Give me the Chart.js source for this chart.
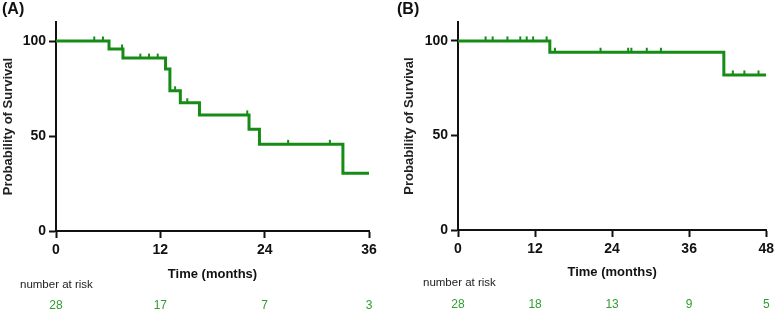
<!DOCTYPE html>
<html>
<head>
<meta charset="utf-8">
<script src="https://cdn.jsdelivr.net/npm/chart.js@4/dist/chart.umd.min.js"></script>
<style>
  body { margin: 0; background: #fff; }
  #wrap { display: flex; width: 778px; height: 312px; }
  canvas { display: block; }
</style>
</head>
<body>
<div id="wrap">
  <canvas id="chartA" width="389" height="312"></canvas>
  <canvas id="chartB" width="389" height="312"></canvas>
</div>
<script>
// ---- panel A : survival steps (months, %) ----
const timesA = [0, 6.1, 7.7, 12.6, 13.1, 14.3, 16.5, 22.2, 23.4, 33.0, 36]
const survA = [100, 95.8, 91.0, 85.3, 73.8, 67.5, 61.1, 53.5, 45.6, 30.4, 30.4]
const censorA = [4.4, 5.4, 7.6, 9.7, 10.7, 11.7, 13.7, 15.1, 22.0, 26.7, 31.5]
const riskTimesA = [0, 12, 24, 36]
const riskA = [28, 17, 7, 3]

// ---- panel B ----
const timesB = [0, 14.3, 41.4, 48]
const survB = [100, 94.0, 82.0, 82.0]
const censorB = [4.3, 5.4, 7.7, 9.7, 10.7, 11.7, 13.8, 15.1, 22.2, 26.5, 27.0, 29.4, 31.6, 42.8, 44.6, 46.8]
const riskTimesB = [0, 12, 24, 36, 48]
const riskB = [28, 18, 13, 9, 5]

const yTicks = [0, 50, 100]
const green = '#168c16'
const riskGreen = '#2e9e2e'

// step value at time t
function survAt(times, surv, t) {
    let s = surv[0]
    for (let i = 0; i < times.length; i++) {
        if (times[i] <= t) s = surv[i]
    }
    return s
}

function makeChart(id, p) {
    const ctx = document.getElementById(id)

    const extras = {
        id: 'extras' + id,
        afterDatasetsDraw(chart) {
            const c = chart.ctx
            const xs = chart.scales.x
            const ys = chart.scales.y
            // censor marks
            c.save()
            c.strokeStyle = green
            c.lineWidth = 2
            p.censor.forEach(t => {
                const x = xs.getPixelForValue(t)
                const y = ys.getPixelForValue(survAt(p.times, p.surv, t))
                c.beginPath()
                c.moveTo(x, y)
                c.lineTo(x, y - 4.5)
                c.stroke()
            })
            c.restore()
        },
        afterDraw(chart) {
            const c = chart.ctx
            const xs = chart.scales.x
            c.save()
            c.fillStyle = '#111'
            c.font = 'bold 16px "Liberation Sans", Arial, sans-serif'
            c.textBaseline = 'middle'
            c.textAlign = 'left'
            c.fillText(p.label, p.labelX, 10)

            c.fillStyle = '#222'
            c.font = '11.5px "Liberation Sans", Arial, sans-serif'
            c.fillText('number at risk', p.riskLabelX, p.riskLabelY)

            c.fillStyle = riskGreen
            c.font = '12px "Liberation Sans", Arial, sans-serif'
            c.textAlign = 'center'
            p.riskTimes.forEach((t, i) => {
                c.fillText(String(p.risk[i]), xs.getPixelForValue(t), p.riskY)
            })
            c.restore()
        }
    }

    return new Chart(ctx, {
        type: 'line',
        data: {
            datasets: [{
                data: p.times.map((t, i) => ({ x: t, y: p.surv[i] })),
                borderColor: green,
                borderWidth: 3,
                stepped: true,
                pointRadius: 0,
                fill: false
            }]
        },
        options: {
            responsive: false,
            animation: false,
            devicePixelRatio: 1,
            layout: { padding: { left: 0, right: p.padRight, top: 22, bottom: 0 } },
            plugins: { legend: { display: false }, tooltip: { enabled: false } },
            scales: {
                x: {
                    type: 'linear',
                    min: 0,
                    max: p.xMax,
                    afterFit: s => { s.height = p.xHeight },
                    ticks: {
                        stepSize: 12,
                        color: '#111',
                        padding: 4,
                        maxRotation: 0,
                        font: { family: '"Liberation Sans", Arial, sans-serif', size: 14, weight: 'bold' }
                    },
                    grid: { drawOnChartArea: false, drawTicks: true, tickLength: 7, tickWidth: 2, tickColor: '#111' },
                    border: { display: true, color: '#111', width: 2 },
                    title: {
                        display: true,
                        text: 'Time (months)',
                        color: '#111',
                        font: { family: '"Liberation Sans", Arial, sans-serif', size: 13, weight: 'bold' },
                        padding: { top: 0, bottom: p.xTitlePad }
                    }
                },
                y: {
                    min: 0,
                    max: 110,
                    afterFit: s => { s.width = p.yWidth },
                    afterBuildTicks: s => { s.ticks = yTicks.map(v => ({ value: v })) },
                    ticks: {
                        color: '#111',
                        padding: 3,
                        font: { family: '"Liberation Sans", Arial, sans-serif', size: 14, weight: 'bold' }
                    },
                    grid: { drawOnChartArea: false, drawTicks: true, tickLength: 7, tickWidth: 2, tickColor: '#111' },
                    border: { display: true, color: '#111', width: 2 },
                    title: {
                        display: true,
                        text: 'Probability of Survival',
                        color: '#222',
                        font: { family: '"Liberation Sans", Arial, sans-serif', size: 13, weight: 'bold' },
                        padding: { top: p.yTitlePad, bottom: 0 }
                    }
                }
            }
        },
        plugins: [extras]
    })
}

makeChart('chartA', {
    times: timesA, surv: survA, censor: censorA,
    riskTimes: riskTimesA, risk: riskA, xMax: 36,
    label: '(A)', labelX: 2,
    padRight: 20, yWidth: 56, xHeight: 81,
    xTitlePad: 30, yTitlePad: 0.5,
    riskLabelX: 20, riskLabelY: 285, riskY: 306
})

makeChart('chartB', {
    times: timesB, surv: survB, censor: censorB,
    riskTimes: riskTimesB, risk: riskB, xMax: 48,
    label: '(B)', labelX: 8,
    padRight: 9, yWidth: 69, xHeight: 82,
    xTitlePad: 32, yTitlePad: 13,
    riskLabelX: 34, riskLabelY: 283, riskY: 305
})
</script>
</body>
</html>
